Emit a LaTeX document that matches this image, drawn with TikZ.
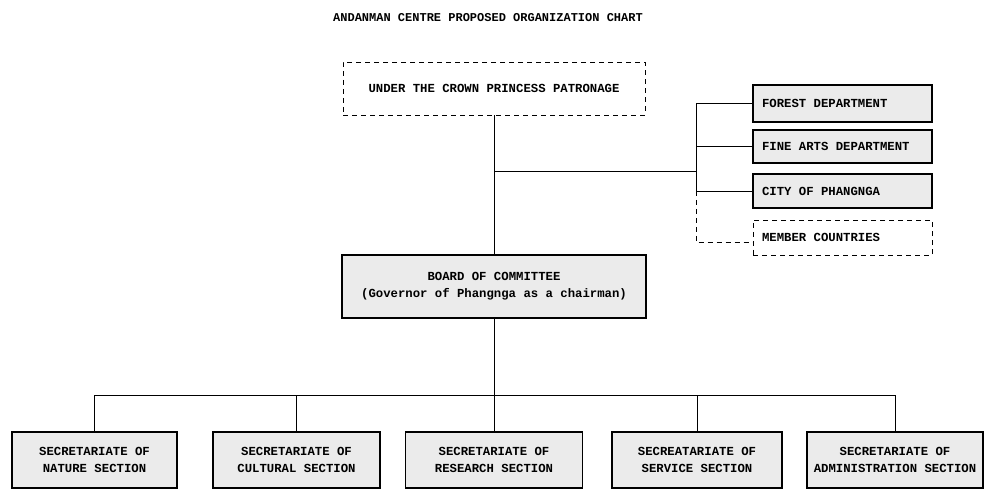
\documentclass[tikz,border=0pt]{standalone}
\usepackage{fontspec}
\setmonofont{Liberation Mono}
\usetikzlibrary{positioning,calc}
\tikzset{
    chart box/.style={
        draw=black,
        line width=1.1pt,
        fill=black!8,
        inner sep=0pt,
        font=\ttfamily\bfseries\fontsize{12.3}{17}\selectfont
    },
    dashed box/.style={
        chart box,
        fill=white,
        line width=0.9pt,
        dash pattern=on 5pt off 4pt
    },
    side box/.style={
        minimum height=#1,
        text width=161pt,
        align=flush left,
        inner xsep=9pt
    },
    section box/.style={
        chart box,
        minimum width=#1,
        minimum height=56pt,
        align=center
    },
    link/.style={
        draw=black,
        line width=0.9pt
    }
}

\begin{document}
\begin{tikzpicture}[x=1pt, y=-1pt]
                \useasboundingbox (0,0) rectangle (989,492);

                \coordinate (T) at (488, 18);
                \coordinate (C) at (494, 88.5);
                \coordinate (B) at (494, 286.5);
                \coordinate (H) at (696, 171);
                \coordinate (S) at (494, 395);

                \node (title) at (T) {\ttfamily\bfseries\fontsize{12}{14}\selectfont ANDANMAN CENTRE PROPOSED ORGANIZATION CHART};

                \node [dashed box, minimum width=302pt, minimum height=53pt] (crown) at (C) {UNDER THE CROWN PRINCESS PATRONAGE};
                \node [chart box, minimum width=304pt, minimum height=63pt, align=center] (board) at (B)
                    {BOARD OF COMMITTEE\\(Governor of Phangnga as a chairman)};

                \node [chart box, side box=37pt] (forest) at (842.5, 103.5) {FOREST DEPARTMENT};
                \node [chart box, side box=33pt] (finearts) at (842.5, 146.5) {FINE ARTS DEPARTMENT};
                \node [chart box, side box=34pt] (city) at (842.5, 191) {CITY OF PHANGNGA};
                \node [dashed box, side box=35pt] (member) at (842.5, 237.5) {MEMBER COUNTRIES};

                \node [section box=165pt] (nature) at (94.5, 460) {SECRETARIATE OF\\NATURE SECTION};
                \node [section box=167pt] (cultural) at (296.5, 460) {SECRETARIATE OF\\CULTURAL SECTION};
                \node [section box=177pt] (research) at (494, 460) {SECRETARIATE OF\\RESEARCH SECTION};
                \node [section box=170pt] (service) at (697, 460) {SECREATARIATE OF\\SERVICE SECTION};
                \node [section box=176pt] (admin) at (895, 460) {SECRETARIATE OF\\ADMINISTRATION SECTION};

                % upper part
                \draw [link] (crown.south) -- (board.north);
                \draw [link] (crown.south |- H) -- (H);
                \draw [link] (forest.west) -- (forest.west -| H) -- (city.west -| H) -- (city.west);
                \draw [link] (finearts.west -| H) -- (finearts.west);
                \draw [link, dash pattern=on 5pt off 4pt] (city.west -| H) -- ($(member.west -| H)+(0,5)$) -- ($(member.west)+(0,5)$);

                % lower part
                \draw [link] (board.south) -- (S);
                \draw [link] (nature.north) -- (nature.north |- S) -- (admin.north |- S) -- (admin.north);
                \foreach \n in {cultural,research,service}
                    \draw [link] (\n.north) -- (\n.north |- S);
            \end{tikzpicture}
\end{document}
